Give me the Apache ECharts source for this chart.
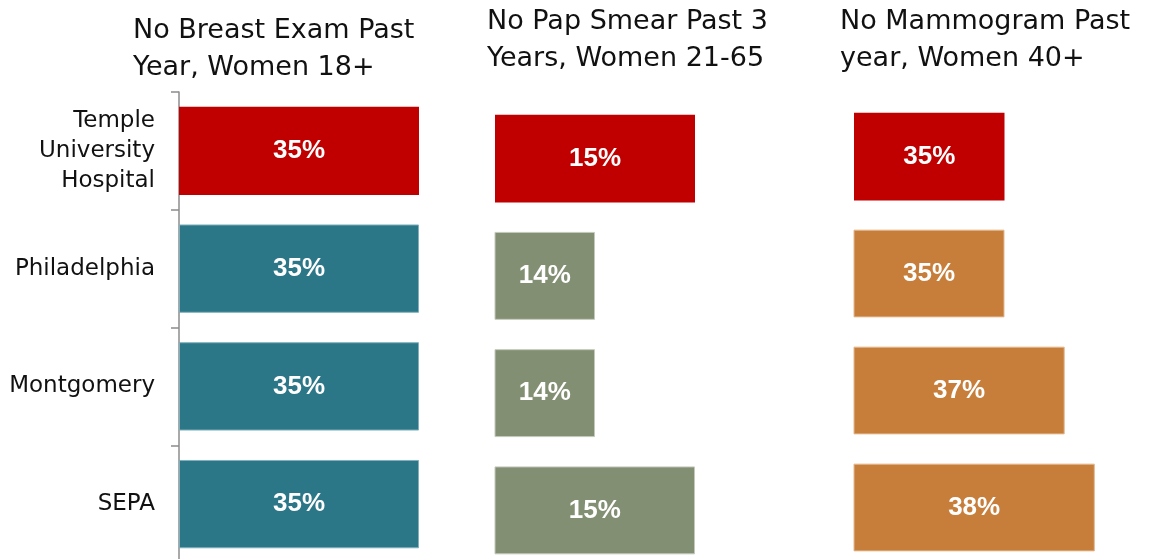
<!DOCTYPE html>
<html>
<head>
<meta charset="utf-8">
<script src="https://cdn.jsdelivr.net/npm/echarts@6/dist/echarts.min.js"></script>
<style>
  html, body { margin: 0; padding: 0; background: #ffffff; overflow: hidden; }
  /* the bottom band runs past the visible area, so the canvas is taller than the page */
  #chart { width: 1159px; height: 600px; }
</style>
</head>
<body>
<div id="chart"></div>
<script>
// Areas compared in every panel (top to bottom)
const categories = ['Temple\nUniversity\nHospital', 'Philadelphia', 'Montgomery', 'SEPA'];

// Panel titles
const titleBreast = 'No Breast Exam Past\nYear, Women 18+';
const titlePap = 'No Pap Smear Past 3\nYears, Women 21-65';
const titleMammo = 'No Mammogram Past\nyear, Women 40+';

// Percent of women in each area (same order as categories)
const breastExam = [35, 35, 35, 35];
const papSmear = [15, 14, 14, 15];
const mammogram = [35, 35, 37, 38];

// Colours: Temple is highlighted in red, the other areas use the panel colour
const templeRed = '#C00000';
const breastColor = '#2B7687';
const papColor = '#838F73';
const mammoColor = '#C77E3B';

const LABEL_FONT = '"DejaVu Sans", sans-serif';
const VALUE_FONT = '"Liberation Sans", Arial, sans-serif';

function coloured(values, mainColor, border) {
  return values.map((v, i) => ({
    value: v,
    itemStyle: {
      color: i === 0 ? templeRed : mainColor,
      borderColor: i === 0 ? templeRed : border,
      borderWidth: i === 0 ? 0 : 1
    }
  }));
}

const valueLabel = {
  show: true,
  position: 'inside',
  formatter: '{c}%',
  color: '#ffffff',
  fontFamily: VALUE_FONT,
  fontWeight: 'bold',
  fontSize: 26
};

const titleStyle = {
  fontFamily: LABEL_FONT,
  fontWeight: 'normal',
  fontSize: 27,
  lineHeight: 37,
  color: '#111111'
};

const chart = echarts.init(document.getElementById('chart'), null, { renderer: 'canvas' });

chart.setOption({
  animation: false,
  backgroundColor: '#ffffff',
  title: [
    { text: titleBreast, left: 133, top: 12, textStyle: titleStyle, padding: 0 },
    { text: titlePap, left: 487, top: 3, textStyle: titleStyle, padding: 0 },
    { text: titleMammo, left: 840, top: 3, textStyle: titleStyle, padding: 0 }
  ],
  grid: [
    { left: 179, top: 92, width: 240, height: 471, containLabel: false },
    { left: 495, top: 100, width: 300, height: 469, containLabel: false },
    { left: 854, top: 98, width: 301, height: 468, containLabel: false }
  ],
  xAxis: [
    { type: 'value', gridIndex: 0, min: 0, max: 35, show: false },
    { type: 'value', gridIndex: 1, min: 13, max: 16, show: false },
    { type: 'value', gridIndex: 2, min: 30, max: 40, show: false }
  ],
  yAxis: [
    {
      type: 'category', gridIndex: 0, data: categories, inverse: true,
      axisLine: { show: true, lineStyle: { color: '#8c8c8c', width: 1.5 } },
      axisTick: { show: true, length: 8, lineStyle: { color: '#8c8c8c', width: 1.5 } },
      axisLabel: {
        fontFamily: LABEL_FONT, fontSize: 23, lineHeight: 30,
        color: '#111111', margin: 24, align: 'right'
      },
      splitLine: { show: false }
    },
    { type: 'category', gridIndex: 1, data: categories, inverse: true, show: false },
    { type: 'category', gridIndex: 2, data: categories, inverse: true, show: false }
  ],
  series: [
    {
      type: 'bar', xAxisIndex: 0, yAxisIndex: 0, barCategoryGap: '25%',
      data: coloured(breastExam, breastColor, '#7fb0bc'),
      label: valueLabel
    },
    {
      type: 'bar', xAxisIndex: 1, yAxisIndex: 1, barCategoryGap: '25%',
      data: coloured(papSmear, papColor, '#c3cabb'),
      label: valueLabel
    },
    {
      type: 'bar', xAxisIndex: 2, yAxisIndex: 2, barCategoryGap: '25%',
      data: coloured(mammogram, mammoColor, '#e3b98f'),
      label: valueLabel
    }
  ]
});
</script>
</body>
</html>
